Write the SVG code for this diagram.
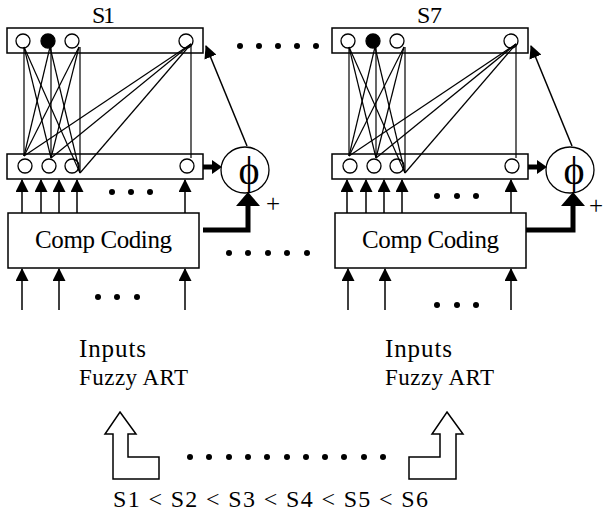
<svg xmlns="http://www.w3.org/2000/svg" width="603" height="516" viewBox="0 0 603 516">
<style>
.box{fill:#fff;stroke:#000;stroke-width:1.5}
.cir{fill:#fff;stroke:#000;stroke-width:1.3}
.on{fill:#000;stroke:#000;stroke-width:1.3}
.ln{stroke:#000;stroke-width:1.2;fill:none}
.arr{stroke:#000;stroke-width:1.5;fill:none;marker-end:url(#head)}
.thick{stroke:#000;stroke-width:5;fill:none}
.dot{fill:#000}
.hollow{fill:#fff;stroke:#000;stroke-width:1.5}
.t{font-family:"Liberation Serif","Times New Roman",serif;fill:#000}
</style>
<defs>
<marker id="head" markerUnits="userSpaceOnUse" markerWidth="13" markerHeight="13" viewBox="0 0 13 13" refX="12" refY="6.5" orient="auto">
<path d="M0,0 L13,6.5 L0,13 z" fill="#000"/>
</marker>
</defs>

<g id="label-s1"><text class="t" x="92" y="23" font-size="24" textLength="23">S1</text></g>
<g id="label-s7"><text class="t" x="417" y="23" font-size="24" textLength="25">S7</text></g>

<g id="s1-top-layer">
<rect class="box" x="7" y="28" width="196" height="25"/>
<circle class="cir" cx="23" cy="41" r="7"/>
<circle class="on" cx="48" cy="41" r="7"/>
<circle class="cir" cx="72" cy="41" r="7"/>
<circle class="cir" cx="186" cy="41" r="7"/>
</g>
<g id="s1-bottom-layer">
<rect class="box" x="7" y="154" width="196" height="25"/>
<circle class="cir" cx="25" cy="166" r="7"/>
<circle class="cir" cx="49" cy="166" r="7"/>
<circle class="cir" cx="72" cy="166" r="7"/>
<circle class="cir" cx="187" cy="166" r="7"/>
</g>
<g id="s1-phi">
<ellipse class="cir" cx="245" cy="170" rx="24" ry="23"/>
<text class="t" x="249" y="184" font-size="40" text-anchor="middle">ϕ</text>
</g>
<g id="s1-comp-coding">
<rect class="box" x="8" y="213" width="191" height="55"/>
<text class="t" x="103.5" y="248" font-size="25" text-anchor="middle" textLength="137">Comp Coding</text>
</g>

<g id="s7-top-layer">
<rect class="box" x="332" y="28" width="196" height="25"/>
<circle class="cir" cx="348" cy="41" r="7"/>
<circle class="on" cx="373" cy="41" r="7"/>
<circle class="cir" cx="397" cy="41" r="7"/>
<circle class="cir" cx="511" cy="41" r="7"/>
</g>
<g id="s7-bottom-layer">
<rect class="box" x="332" y="154" width="196" height="25"/>
<circle class="cir" cx="350" cy="166" r="7"/>
<circle class="cir" cx="374" cy="166" r="7"/>
<circle class="cir" cx="397" cy="166" r="7"/>
<circle class="cir" cx="512" cy="166" r="7"/>
</g>
<g id="s7-phi">
<ellipse class="cir" cx="570" cy="170" rx="24" ry="23"/>
<text class="t" x="574" y="184" font-size="40" text-anchor="middle">ϕ</text>
</g>
<g id="s7-comp-coding">
<rect class="box" x="335" y="213" width="191" height="55"/>
<text class="t" x="430.5" y="248" font-size="25" text-anchor="middle" textLength="137">Comp Coding</text>
</g>

<g id="inputs-left">
<text class="t" x="79" y="357" font-size="25" textLength="67">Inputs</text>
<text class="t" x="79" y="385" font-size="23" textLength="109">Fuzzy ART</text>
</g>
<g id="inputs-right">
<text class="t" x="385" y="357" font-size="25" textLength="67">Inputs</text>
<text class="t" x="385" y="385" font-size="23" textLength="109">Fuzzy ART</text>
</g>

<g id="order-left-arrow"><polygon class="hollow" points="120,412 136,434 128,434 128,457 159,457 159,479 113,479 113,434 105,434"/></g>
<g id="order-right-arrow"><polygon class="hollow" points="447,412 463,434 456,434 456,479 409,479 409,457 440,457 440,434 432,434"/></g>
<g id="order-label"><text class="t" x="113" y="507" font-size="24" textLength="315">S1 &lt; S2 &lt; S3 &lt; S4 &lt; S5 &lt; S6</text></g>

<g id="connectors">
<g id="s1-weights" class="ln">
<line x1="24" y1="47" x2="24" y2="156"/>
<line x1="51" y1="47" x2="51" y2="158"/>
<line x1="80" y1="47" x2="80" y2="173"/>
<line x1="191" y1="44" x2="191" y2="158"/>
<line x1="24" y1="47" x2="51" y2="158"/>
<line x1="24" y1="47" x2="80" y2="173"/>
<line x1="50" y1="47" x2="24" y2="156"/>
<line x1="50" y1="47" x2="80" y2="173"/>
<line x1="79" y1="47" x2="24" y2="156"/>
<line x1="79" y1="47" x2="51" y2="158"/>
<line x1="191" y1="44" x2="24" y2="156"/>
<line x1="191" y1="44" x2="51" y2="158"/>
<line x1="191" y1="44" x2="80" y2="173"/>
</g>
<g id="s7-weights" class="ln" transform="translate(325,0)">
<line x1="24" y1="47" x2="24" y2="156"/>
<line x1="51" y1="47" x2="51" y2="158"/>
<line x1="80" y1="47" x2="80" y2="173"/>
<line x1="191" y1="44" x2="191" y2="158"/>
<line x1="24" y1="47" x2="51" y2="158"/>
<line x1="24" y1="47" x2="80" y2="173"/>
<line x1="50" y1="47" x2="24" y2="156"/>
<line x1="50" y1="47" x2="80" y2="173"/>
<line x1="79" y1="47" x2="24" y2="156"/>
<line x1="79" y1="47" x2="51" y2="158"/>
<line x1="191" y1="44" x2="24" y2="156"/>
<line x1="191" y1="44" x2="51" y2="158"/>
<line x1="191" y1="44" x2="80" y2="173"/>
</g>

<g id="s1-arrows">
<line class="arr" x1="22" y1="213" x2="22" y2="180"/>
<line class="arr" x1="41" y1="213" x2="41" y2="180"/>
<line class="arr" x1="59" y1="213" x2="59" y2="180"/>
<line class="arr" x1="77" y1="213" x2="77" y2="180"/>
<line class="arr" x1="185" y1="213" x2="185" y2="180"/>
<line class="arr" x1="22" y1="310" x2="22" y2="269"/>
<line class="arr" x1="59" y1="310" x2="59" y2="269"/>
<line class="arr" x1="185" y1="310" x2="185" y2="269"/>
<line class="arr" x1="247" y1="146" x2="206" y2="46"/>
<line class="thick" x1="203" y1="167" x2="213" y2="167"/>
<polygon points="212,160 222,167 212,174" fill="#000"/>
<polyline class="thick" points="203,230 248,230 248,204"/>
<polygon points="236,206 248,192 260,206" fill="#000"/>
<text class="t" x="266" y="212" font-size="25">+</text>
</g>
<g id="s7-arrows" transform="translate(325,0)">
<line class="arr" x1="22" y1="213" x2="22" y2="180"/>
<line class="arr" x1="41" y1="213" x2="41" y2="180"/>
<line class="arr" x1="59" y1="213" x2="59" y2="180"/>
<line class="arr" x1="77" y1="213" x2="77" y2="180"/>
<line class="arr" x1="186" y1="213" x2="186" y2="180"/>
<line class="arr" x1="23" y1="310" x2="23" y2="269"/>
<line class="arr" x1="60" y1="310" x2="60" y2="269"/>
<line class="arr" x1="186" y1="310" x2="186" y2="269"/>
<line class="arr" x1="247" y1="146" x2="206" y2="46"/>
<line class="thick" x1="203" y1="167" x2="213" y2="167"/>
<polygon points="212,160 222,167 212,174" fill="#000"/>
<polyline class="thick" points="201,230 248,230 248,204"/>
<polygon points="236,206 248,192 260,206" fill="#000"/>
<text class="t" x="264" y="214" font-size="25">+</text>
</g>
</g>

<g id="ellipsis-dots" class="dot">
<circle cx="112" cy="192" r="3"/><circle cx="131" cy="192" r="3"/><circle cx="150" cy="192" r="3"/>
<circle cx="98" cy="297" r="3"/><circle cx="117" cy="297" r="3"/><circle cx="137" cy="297" r="3"/>
<circle cx="437" cy="196" r="3"/><circle cx="457" cy="196" r="3"/><circle cx="476" cy="196" r="3"/>
<circle cx="437" cy="305" r="3"/><circle cx="457" cy="305" r="3"/><circle cx="476" cy="305" r="3"/>
<circle cx="240" cy="46" r="3"/><circle cx="259" cy="46" r="3"/><circle cx="278" cy="46" r="3"/><circle cx="297" cy="46" r="3"/><circle cx="316" cy="46" r="3"/>
<circle cx="229" cy="253" r="3"/><circle cx="248" cy="253" r="3"/><circle cx="268" cy="253" r="3"/><circle cx="287" cy="253" r="3"/><circle cx="307" cy="253" r="3"/>
<circle cx="190" cy="457" r="3"/><circle cx="209" cy="457" r="3"/><circle cx="229" cy="457" r="3"/><circle cx="248" cy="457" r="3"/><circle cx="267" cy="457" r="3"/><circle cx="287" cy="457" r="3"/><circle cx="306" cy="457" r="3"/><circle cx="325" cy="457" r="3"/><circle cx="344" cy="457" r="3"/><circle cx="364" cy="457" r="3"/><circle cx="383" cy="457" r="3"/>
</g>
</svg>
